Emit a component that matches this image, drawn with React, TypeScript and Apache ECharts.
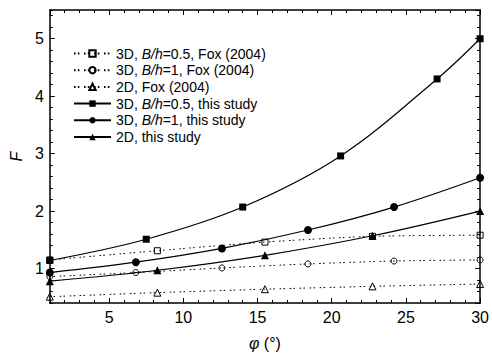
import React, { useEffect, useRef } from 'react';
import * as echarts from 'echarts';

const seriesNames = [
  '3D, B/h=0.5, Fox (2004)',
  '3D, B/h=1, Fox (2004)',
  '2D, Fox (2004)',
  '3D, B/h=0.5, this study',
  '3D, B/h=1, this study',
  '2D, this study',
];

const phiFox05 = [1, 8.25, 15.5, 22.75, 30];
const fFox05 = [1.15, 1.31, 1.46, 1.56, 1.58];
const phiFox1 = [1, 6.8, 12.6, 18.4, 24.2, 30];
const fFox1 = [0.86, 0.93, 1.01, 1.08, 1.13, 1.15];
const phiFox2D = [1, 8.25, 15.5, 22.75, 30];
const fFox2D = [0.51, 0.58, 0.64, 0.69, 0.73];
const phiStudy05 = [1, 7.5, 14.0, 20.6, 27.1, 30];
const fStudy05 = [1.14, 1.51, 2.07, 2.96, 4.3, 5.0];
const phiStudy1 = [1, 6.8, 12.6, 18.4, 24.2, 30];
const fStudy1 = [0.93, 1.11, 1.35, 1.67, 2.07, 2.58];
const phiStudy2D = [1, 8.25, 15.5, 22.75, 30];
const fStudy2D = [0.78, 0.97, 1.23, 1.57, 2.0];

const xMin = 1;
const xMax = 30;
const yMin = 0.4;
const yMax = 5.5;

const FONT = 'Arial, "Liberation Sans", Helvetica, sans-serif';

const pairs = (xs: number[], ys: number[]) => xs.map((x, i) => [x, ys[i]]);

export default function App() {
  const ref = useRef<HTMLDivElement>(null);

  useEffect(() => {
    if (!ref.current) return;
    const chart = echarts.init(ref.current, undefined, { renderer: 'svg' });

    const lineAxis = { show: true, onZero: false, lineStyle: { color: '#000', width: 1.5 } };
    const majorTick = { show: true, inside: true, length: 5, lineStyle: { color: '#000', width: 1 } };
    const minorTickAx = { show: true, inside: true, length: 3, lineStyle: { color: '#000', width: 1 } };
    const labelStyle = { color: '#000', fontSize: 16, fontFamily: FONT };

    const xMajor = (pos: 'bottom' | 'top', labels: boolean) => ({
      type: 'value',
      position: pos,
      min: xMin,
      max: xMax,
      minInterval: 5,
      maxInterval: 5,
      axisLine: lineAxis,
      axisTick: majorTick,
      splitLine: { show: false },
      axisLabel: labels
        ? { ...labelStyle, margin: 6, showMinLabel: false }
        : { show: false },
      ...(labels
        ? {
            name: '{i|φ} (°)',
            nameLocation: 'middle',
            nameGap: 32,
            nameTextStyle: {
              ...labelStyle,
              rich: { i: { fontStyle: 'italic', fontSize: 16, fontFamily: FONT, color: '#000' } },
            },
          }
        : {}),
    });
    const xMinor = (pos: 'bottom' | 'top') => ({
      type: 'value',
      position: pos,
      min: xMin,
      max: xMax,
      interval: 1,
      axisLine: { show: false, onZero: false },
      axisTick: minorTickAx,
      splitLine: { show: false },
      axisLabel: { show: false },
    });
    const yMajor = (pos: 'left' | 'right', labels: boolean) => ({
      type: 'value',
      position: pos,
      min: yMin,
      max: yMax,
      minInterval: 1,
      maxInterval: 1,
      axisLine: lineAxis,
      axisTick: majorTick,
      splitLine: { show: false },
      axisLabel: labels
        ? { ...labelStyle, margin: 6, showMinLabel: false, showMaxLabel: false }
        : { show: false },
      ...(labels
        ? {
            name: 'F',
            nameLocation: 'middle',
            nameGap: 25,
            nameTextStyle: { ...labelStyle, fontStyle: 'italic' },
          }
        : {}),
    });
    const yMinor = (pos: 'left' | 'right') => ({
      type: 'value',
      position: pos,
      min: yMin,
      max: yMax,
      interval: 0.2,
      axisLine: { show: false, onZero: false },
      axisTick: minorTickAx,
      splitLine: { show: false },
      axisLabel: { show: false },
    });

    const dash = [1.6, 2.2, 1.6, 4.6];
    const hollow = (name: string, xs: number[], ys: number[], symbol: string, size: number) => ({
      name,
      type: 'line',
      data: pairs(xs, ys),
      smooth: 0.3,
      symbol,
      symbolSize: size,
      showAllSymbol: true,
      lineStyle: { color: '#000', width: 1, type: dash },
      itemStyle: { color: 'rgba(0,0,0,0)', borderColor: '#000', borderWidth: 1 },
      xAxisIndex: 0,
      yAxisIndex: 0,
      z: 2,
    });
    const solid = (name: string, xs: number[], ys: number[], symbol: string, size: number) => ({
      name,
      type: 'line',
      data: pairs(xs, ys),
      smooth: 0.35,
      symbol,
      symbolSize: size,
      showAllSymbol: true,
      lineStyle: { color: '#000', width: 1.2 },
      itemStyle: { color: '#000' },
      xAxisIndex: 0,
      yAxisIndex: 0,
      z: 3,
    });

    chart.setOption({
      animation: false,
      backgroundColor: '#fff',
      grid: { left: 48, right: 11, top: 10, bottom: 49, containLabel: false },
      xAxis: [xMajor('bottom', true), xMinor('bottom'), xMajor('top', false), xMinor('top')],
      yAxis: [yMajor('left', true), yMinor('left'), yMajor('right', false), yMinor('right')],
      legend: {
        orient: 'vertical',
        left: 73,
        top: 46,
        padding: 0,
        itemWidth: 37,
        itemHeight: 8,
        itemGap: 1.7,
        data: seriesNames,
        formatter: (n: string) => n.replace('B/h', '{i|B/h}'),
        textStyle: {
          color: '#000',
          fontSize: 14,
          lineHeight: 15,
          fontFamily: FONT,
          rich: {
            i: { fontStyle: 'italic', fontSize: 14, lineHeight: 15, fontFamily: FONT, color: '#000' },
          },
        },
      },
      series: [
        hollow(seriesNames[0], phiFox05, fFox05, 'rect', 6),
        hollow(seriesNames[1], phiFox1, fFox1, 'circle', 6),
        hollow(seriesNames[2], phiFox2D, fFox2D, 'triangle', 7),
        solid(seriesNames[3], phiStudy05, fStudy05, 'rect', 7),
        solid(seriesNames[4], phiStudy1, fStudy1, 'circle', 8),
        solid(seriesNames[5], phiStudy2D, fStudy2D, 'triangle', 8),
      ],
    });

    return () => chart.dispose();
  }, []);

  return (
    <div
      ref={ref}
      style={{ position: 'fixed', left: 0, top: 0, width: 492, height: 356, background: '#fff' }}
    />
  );
}
